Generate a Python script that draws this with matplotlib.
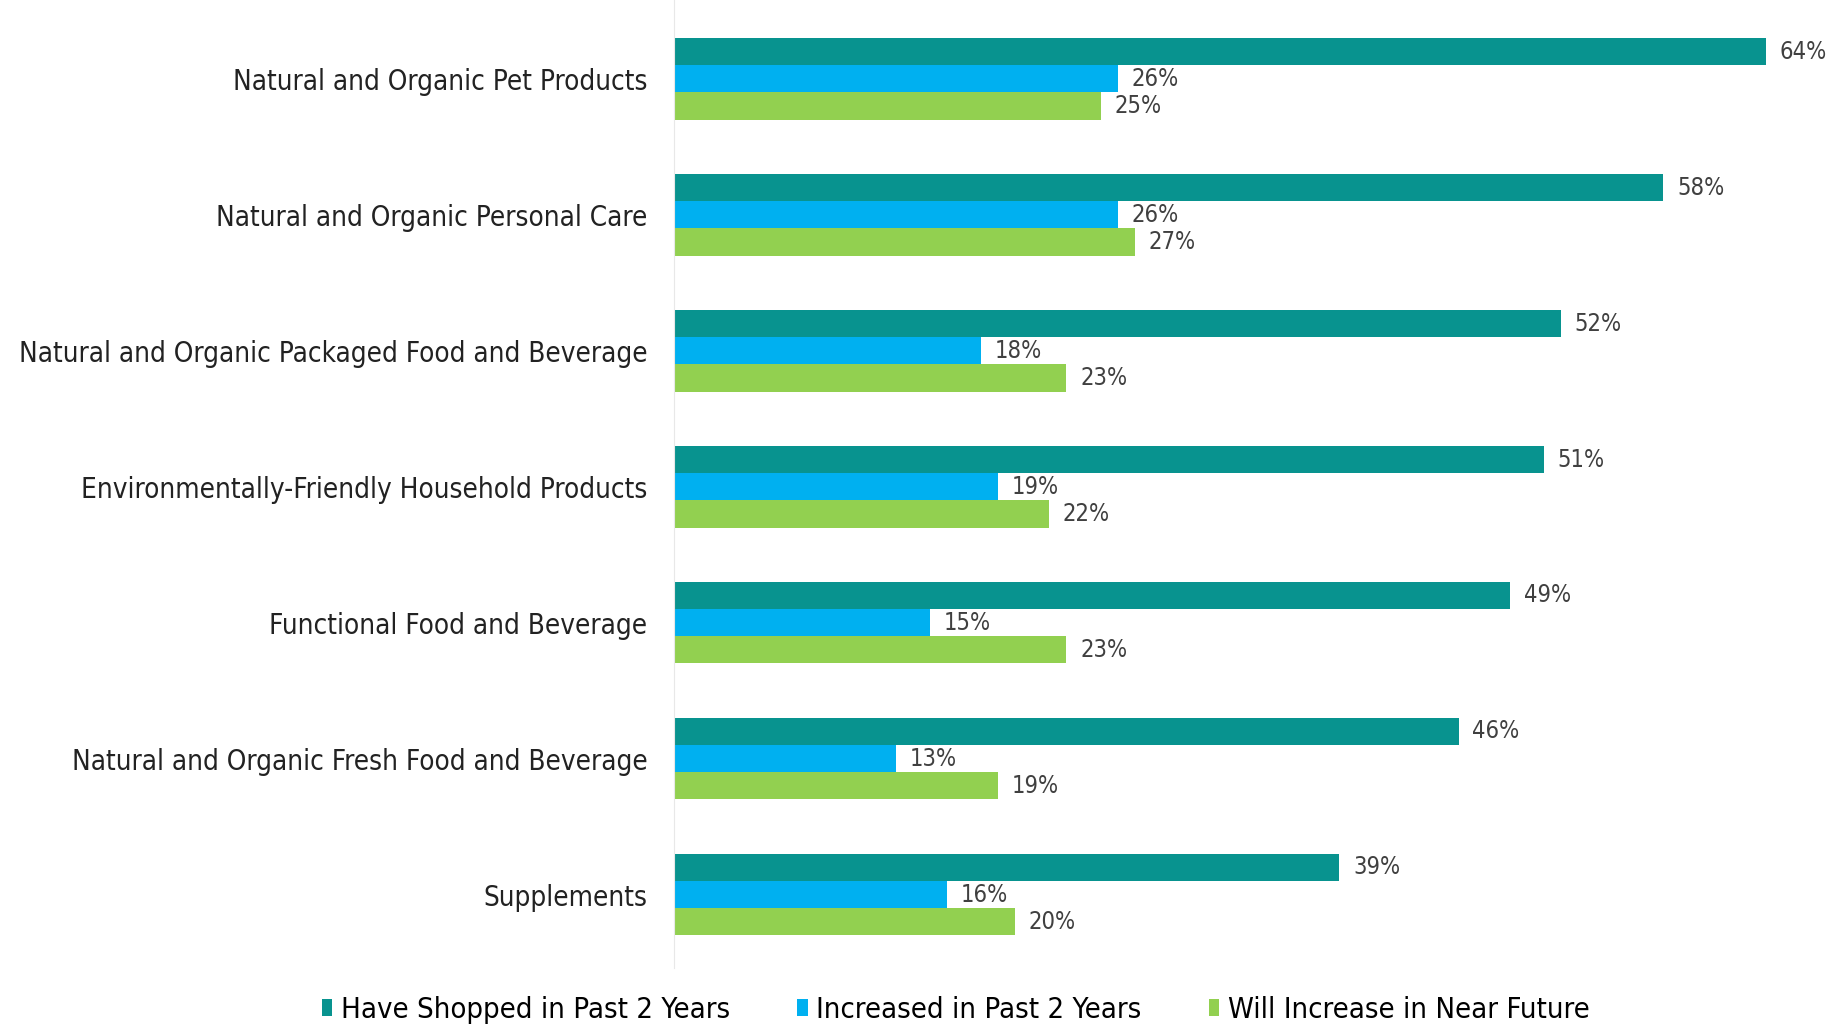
import matplotlib
matplotlib.use("Agg")
import matplotlib.pyplot as plt
import numpy as np

categories = [
    "Natural and Organic Pet Products",
    "Natural and Organic Personal Care",
    "Natural and Organic Packaged Food and Beverage",
    "Environmentally-Friendly Household Products",
    "Functional Food and Beverage",
    "Natural and Organic Fresh Food and Beverage",
    "Supplements",
]
series_names = ["Have Shopped in Past 2 Years", "Increased in Past 2 Years", "Will Increase in Near Future"]
have_shopped = [64, 58, 52, 51, 49, 46, 39]
increased = [26, 26, 18, 19, 15, 13, 16]
will_increase = [25, 27, 23, 22, 23, 19, 20]
colors = ["#08938F", "#00B0F0", "#92D050"]

plt.rcParams['font.family'] = ['DejaVu Sans']
plt.rcParams['font.stretch'] = 'condensed'

fig = plt.figure(figsize=(18.45, 10.3), dpi=100)
ax = fig.add_axes([674/1845, 1-968/1030, 1-674/1845, 968/1030])

y = np.arange(len(categories))
h = 0.2
for k, (vals, c) in enumerate(zip([have_shopped, increased, will_increase], colors)):
    pos = y + (k - 1) * h
    ax.barh(pos, vals, height=h, color=c, label=series_names[k])
    for p, v in zip(pos, vals):
        ax.text(v + 0.8, p, f"{v}%", va="center", ha="left", fontsize=17, color="#404040")

ax.set_xlim(0, (1845-674)/17.06)
ax.set_ylim(6.54, -0.58)
ax.set_yticks(y)
ax.set_yticklabels(categories, fontsize=20, color="#222222")
ax.tick_params(axis="y", length=0, pad=19)
ax.set_xticks([])
for s in ["top", "right", "bottom"]:
    ax.spines[s].set_visible(False)
ax.spines["left"].set_color("#E8E8E8")

fig.legend(loc="center", bbox_to_anchor=(0.518, 0.0194), ncol=3, frameon=False,
           fontsize=21, handlelength=0.35, handleheight=0.5, handletextpad=0.3,
           columnspacing=2.3)

fig.savefig("out.png", dpi=100)
